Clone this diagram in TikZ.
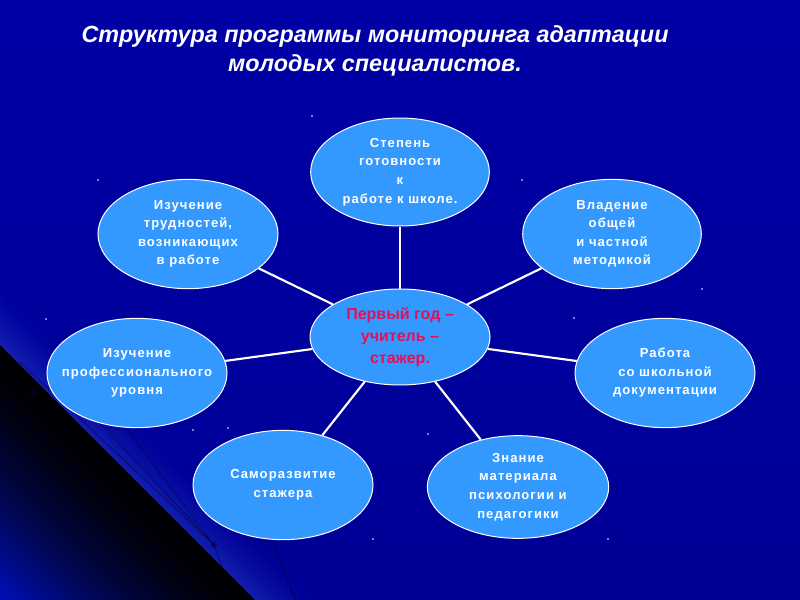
\documentclass[tikz,border=0pt]{standalone}
\usepackage{fontspec}
\setmainfont{Liberation Sans}
\usetikzlibrary{shapes.geometric}
\definecolor{bgtop}{RGB}{0,0,165}
\definecolor{bgmid}{RGB}{0,0,80}
\definecolor{bgbot}{RGB}{0,0,150}
\definecolor{ovfill}{RGB}{51,153,255}
\definecolor{ctext}{RGB}{228,16,88}
\definecolor{cornerblue}{RGB}{0,15,190}
\definecolor{glow}{RGB}{30,50,185}
\definecolor{streak}{RGB}{0,0,60}
\tikzset{
  oval/.style={ellipse, draw=white, line width=0.75pt, fill=ovfill, inner sep=0pt,
    align=center, text=white,
    font=\fontsize{9.8}{13.9}\selectfont\bfseries\addfontfeature{LetterSpace=8}},
  hub/.style={oval, text=ctext, font=\fontsize{12}{16.5}\selectfont\bfseries},
  link/.style={draw=white, line width=1.6pt},
  title/.style={align=center, text=white, font=\fontsize{17.5}{21.5}\selectfont\bfseries\itshape},
  speck/.style={fill=white, inner sep=0pt, minimum size=1.2pt, circle},
  streakline/.style={draw=streak, line width=0.5pt, draw opacity=0.6}
}
\begin{document}
\begin{tikzpicture}[x=0.75pt,y=-0.75pt]
\useasboundingbox (0,0) rectangle (800,600);
% background
\shade[top color=bgtop, middle color=bgmid, bottom color=bgbot] (0,0) rectangle (800,600);
\begin{scope}
  \clip (0,0) rectangle (800,600);
  % glow band above the diagonal
  \foreach \k in {0,...,19} {
    \pgfmathsetmacro\op{0.6*(1-\k/20)^1.5}
    \fill[glow, fill opacity=\op] (-50,{-50+345-3*\k}) -- (500,{500+345-3*\k}) -- (500,{500+345-3*(\k+1)}) -- (-50,{-50+345-3*(\k+1)}) -- cycle;
  }
  % dark triangle below the diagonal
  \foreach \k in {0,...,39} {
    \pgfmathsetmacro\p{100*((\k+0.5)/40)^1.6}
    \fill[cornerblue!\p!black] (-50,{-50+345+6.4*\k}) -- (500,{500+345+6.4*\k}) -- (500,{500+345+6.4*(\k+1)+0.5}) -- (-50,{-50+345+6.4*(\k+1)+0.5}) -- cycle;
  }
\end{scope}
\draw[streakline] (20,362) -- (214,545) -- (234,600);
\draw[streakline] (60,380) -- (214,545);
\draw[streakline] (120,420) -- (214,545);
\draw[streakline, line width=0.8pt] (273,540) -- (295,600);
\fill[streak, opacity=0.5] (214,545) circle (3);
\fill[streak, opacity=0.4] (33,393) circle (5);
% specks
\foreach \p in {(312,116),(98,180),(522,180),(702,289),(46,319),(574,318),(193,430),(228,428),(428,434),(373,539),(608,539)}
  \node[speck] at \p {};
% title
\node[title] (ttl) at (375,51) {Структура программы мониторинга адаптации\\молодых специалистов.};
% nodes
\node[hub, minimum width=135pt, minimum height=72pt] (c) at (400,337) {Первый год –\\учитель –\\стажер.};
\node[oval, minimum width=134pt, minimum height=81pt] (top) at (400,172) {Степень\\готовности\\к\\работе к школе.};
\node[oval, minimum width=135pt, minimum height=82pt] (tl) at (188,234) {Изучение\\трудностей,\\возникающих\\ в работе};
\node[oval, minimum width=134pt, minimum height=82pt] (tr) at (612,234) {Владение\\общей\\и частной\\методикой};
\node[oval, inner xsep=-12pt, minimum width=135pt, minimum height=82pt] (l) at (137,373) {Изучение\\профессионального\\уровня};
\node[oval, minimum width=135pt, minimum height=82pt] (r) at (665,373) {Работа\\со школьной\\документации};
\node[oval, minimum width=135pt, minimum height=82pt] (bl) at (283,485) {Саморазвитие\\стажера};
\node[oval, minimum width=136pt, minimum height=77pt] (br) at (518,487) {Знание\\материала\\психологии и\\педагогики};
% connectors
\foreach \n in {top,tl,tr,l,r,bl,br}
  \draw[link] (c) -- (\n);
\end{tikzpicture}
\end{document}
